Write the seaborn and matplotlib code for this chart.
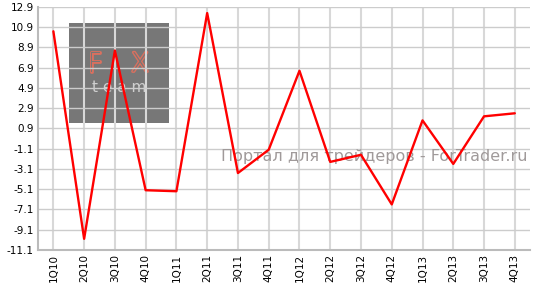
import matplotlib
matplotlib.use("Agg")
import matplotlib.pyplot as plt
from matplotlib.patches import Rectangle
import seaborn as sns
import pandas as pd
import numpy as np

quarters = ["1Q10", "2Q10", "3Q10", "4Q10", "1Q11", "2Q11", "3Q11", "4Q11",
            "1Q12", "2Q12", "3Q12", "4Q12", "1Q13", "2Q13", "3Q13", "4Q13"]
values = [10.5, -10.0, 8.6, -5.2, -5.3, 12.3, -3.5, -1.2,
          6.6, -2.4, -1.7, -6.6, 1.7, -2.6, 2.1, 2.4]
yticks = [12.9, 10.9, 8.9, 6.9, 4.9, 2.9, 0.9, -1.1, -3.1, -5.1, -7.1, -9.1, -11.1]

sns.set_style("white")
plt.rcParams['font.family'] = ['DejaVu Sans']

df = pd.DataFrame({"q": quarters, "v": values, "i": np.arange(len(quarters))})

fig = plt.figure(figsize=(5.35, 2.92), dpi=100)
ax = fig.add_axes([0.071, 0.144, 0.92, 0.832])

# logo box
ax.add_patch(Rectangle((69 / 535, 1 - 123 / 292), 100 / 535, 100 / 292,
                       transform=fig.transFigure, facecolor="#777777",
                       edgecolor="none", zorder=0.1))
ax.text(95 / 535, 1 - 64 / 292, "F", color="#777777", fontsize=19,
        ha="center", va="center", transform=fig.transFigure, zorder=0.2,
        path_effects=None, fontweight="light",
        bbox=None).set_path_effects(
    [__import__("matplotlib.patheffects", fromlist=["x"]).withStroke(linewidth=2, foreground="#d9705f")])
ax.text(140 / 535, 1 - 64 / 292, "X", color="#777777", fontsize=19,
        ha="center", va="center", transform=fig.transFigure, zorder=0.2,
        fontweight="light").set_path_effects(
    [__import__("matplotlib.patheffects", fromlist=["x"]).withStroke(linewidth=2, foreground="#d9705f")])
ax.text(119 / 535, 1 - 87 / 292, "t e a m", color="#cfcfcf", fontsize=11,
        ha="center", va="center", transform=fig.transFigure, zorder=0.2)

sns.lineplot(data=df, x="i", y="v", ax=ax, color="#ff0000", linewidth=1.7,
             zorder=3)

ax.set_xlim(-0.5, len(quarters) - 0.5)
ax.set_ylim(-11.1, 12.9)
ax.set_yticks(yticks)
ax.set_yticklabels([f"{t:.1f}" for t in yticks])
ax.set_xticks(range(len(quarters)))
ax.set_xticklabels(quarters, rotation=90)
ax.set_axisbelow(True)
ax.grid(axis="y", color="#cccccc", linewidth=1.0, zorder=0.5)
ax.grid(axis="x", color="#d8d8d8", linewidth=1.5, zorder=0.5)
ax.tick_params(axis="both", labelsize=7.5, colors="#000000", length=0, pad=3)
ax.set_xlabel("")
ax.set_ylabel("")
for s in ["top", "right"]:
    ax.spines[s].set_visible(False)
for s in ["left", "bottom"]:
    ax.spines[s].set_color("#bbbbbb")
    ax.spines[s].set_linewidth(1.5)

ax.text(0.995, 0.383, "Портал для трейдеров - ForTrader.ru", transform=ax.transAxes,
        ha="right", va="center", fontsize=11.5, color="#a09a9a", zorder=2)

fig.savefig("out.png", dpi=100)
